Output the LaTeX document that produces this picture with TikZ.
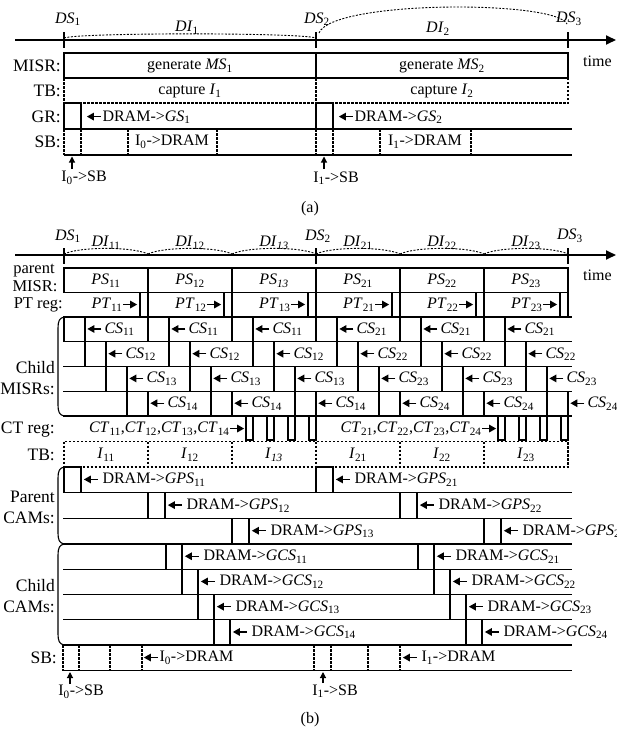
\documentclass[tikz,border=0pt]{standalone}
\usepackage{fontspec}
\setmainfont{Liberation Serif}
\usetikzlibrary{arrows.meta}
\newcommand{\iv}[2]{\textit{#1}\textsubscript{#2}}
\newcommand{\ivi}[2]{\textit{#1}\textsubscript{\textit{#2}}}
\newcommand{\larr}{\tikz[baseline=-0.6ex]\draw[line width=1.3pt,-{Triangle[length=7pt,width=7.5pt]}] (14pt,0pt)--(0pt,0pt);}
\newcommand{\rarr}{\tikz[baseline=-0.6ex]\draw[line width=1.3pt,-{Triangle[length=7pt,width=7.5pt]}] (0pt,0pt)--(14pt,0pt);}
\begin{document}
\begin{tikzpicture}[x=1pt,y=-1pt,
  box/.style={line width=1.1pt},
  dsh/.style={line width=1.1pt, dash pattern=on 2.5pt off 1.5pt},
  arcd/.style={line width=0.9pt, dash pattern=on 2pt off 1.5pt},
  tick/.style={line width=1.4pt},
  ax/.style={line width=1.8pt,-{Triangle[length=10pt,width=9pt]}},
  upar/.style={line width=1.1pt,-{Triangle[length=6pt,width=6pt]}},
  lbl/.style={font=\fontsize{17.5}{21}\selectfont, inner sep=0pt},
  slbl/.style={font=\fontsize{16.5}{19}\selectfont, inner sep=0pt},
  txt/.style={font=\fontsize{16}{19}\selectfont, inner sep=0pt}]
\fill[white] (0,0) rectangle (617,731);
\useasboundingbox (0,0) rectangle (617,731);

% ================= (a) =================
\draw[ax] (15,40) -- (616,40);
\foreach \x in {64,316,568} \draw[tick] (\x,32) -- (\x,48);
\node[txt] (dsa1) at (68,19) {\iv{DS}{1}};
\node[txt] (dsa2) at (317,19) {\iv{DS}{2}};
\node[txt] (dsa3) at (569,19) {\iv{DS}{3}};
\node[txt] (dia1) at (187,28) {\iv{DI}{1}};
\node[txt] (dia2) at (438,29) {\iv{DI}{2}};
\draw[arcd] (64,38) .. controls (80,32.5) and (300,32.5) .. (316,38);
\draw[arcd] (319,33) .. controls (332,0) and (556,0) .. (567,24);
\node[txt,anchor=west] (timea) at (583,61) {time};

\node[lbl,anchor=east] (la1) at (61,66) {MISR:};
\node[lbl,anchor=east] (la2) at (61,91) {TB:};
\node[lbl,anchor=east] (la3) at (61,117) {GR:};
\node[lbl,anchor=east] (la4) at (61,142) {SB:};

% MISR
\draw[box] (64,53) rectangle (568,78);
\draw[box] (316,53) -- (316,78);
\node[txt] (ma1) at (190,66) {generate \iv{MS}{1}};
\node[txt] (ma2) at (442,66) {generate \iv{MS}{2}};
% TB
\draw[dsh] (64,78) -- (64,103) -- (568,103) -- (568,78);
\draw[dsh] (316,78) -- (316,103);
\node[txt] (ta1) at (190,91) {capture \iv{I}{1}};
\node[txt] (ta2) at (442,91) {capture \iv{I}{2}};
% GR
\draw[box] (64,103) rectangle (81,129);
\draw[box] (316,103) rectangle (333,129);
\draw[box] (64,129) -- (572,129);
\node[txt,anchor=west] (ga1) at (86,117) {\larr\hspace{1pt}DRAM->\iv{GS}{1}};
\node[txt,anchor=west] (ga2) at (338,117) {\larr\hspace{1pt}DRAM->\iv{GS}{2}};
% SB
\foreach \x in {64,81,128,217,316,333,380,471} \draw[dsh] (\x,129) -- (\x,155);
\draw[box] (64,155) -- (572,155);
\node[txt] (sa1) at (172,142) {I\textsubscript{0}->DRAM};
\node[txt] (sa2) at (425,142) {I\textsubscript{1}->DRAM};
\node[txt] (sba1) at (84,178) {I\textsubscript{0}->SB};
\node[txt] (sba2) at (336,178) {I\textsubscript{1}->SB};
\coordinate (ta0) at (72,169); \coordinate (hd0) at (72,156.5);
\coordinate (ta1c) at (324,169); \coordinate (hd1) at (324,156.5);
\draw[upar] (ta0) -- (hd0);
\draw[upar] (ta1c) -- (hd1);
\node[txt] (capa) at (310,209) {(a)};

% ================= (b) =================
\draw[ax] (15,255) -- (616,255);
\foreach \x in {64,316,568} \draw[tick] (\x,248) -- (\x,264);
\node[txt] (dsb1) at (68,236) {\iv{DS}{1}};
\node[txt] (dsb2) at (318,236) {\iv{DS}{2}};
\node[txt] (dsb3) at (570,236) {\iv{DS}{3}};
\foreach \x in {64,148,232,316,400,484}
  \draw[arcd] (\x,254) .. controls ({\x+16},246.5) and ({\x+68},246.5) .. ({\x+84},254);
\node[txt] (dib1) at (106,243) {\iv{DI}{11}};
\node[txt] (dib2) at (190,243) {\iv{DI}{12}};
\node[txt] (dib3) at (274,243) {\ivi{DI}{13}};
\node[txt] (dib4) at (358,243) {\iv{DI}{21}};
\node[txt] (dib5) at (442,243) {\iv{DI}{22}};
\node[txt] (dib6) at (526,243) {\iv{DI}{23}};
\node[txt,anchor=west] (timeb) at (583,275) {time};

% left labels
\node[slbl] (lb1a) at (34,271) {parent};
\node[slbl] (lb1b) at (35,286.5) {MISR:};
\node[slbl,anchor=east] (lb2) at (63,305) {PT reg:};
\node[lbl,anchor=east,align=right] (lb3) at (55,378) {Child\\MISRs:};
\node[lbl,anchor=east] (lb4) at (55,430) {CT reg:};
\node[lbl,anchor=east] (lb5) at (55,455) {TB:};
\node[lbl,anchor=east,align=right] (lb6) at (55,507) {Parent\\CAMs:};
\node[lbl,anchor=east,align=right] (lb7) at (55,596) {Child\\CAMs:};
\node[lbl,anchor=east] (lb8) at (57,658) {SB:};

% parent MISR
\draw[box] (64,268) rectangle (568,292.5);
\foreach \x in {148,232,316,400,484} \draw[box] (\x,268) -- (\x,292.5);
\node[txt] (ps1) at (106,280.5) {\iv{PS}{11}};
\node[txt] (ps2) at (190,280.5) {\iv{PS}{12}};
\node[txt] (ps3) at (274,280.5) {\ivi{PS}{13}};
\node[txt] (ps4) at (358,280.5) {\iv{PS}{21}};
\node[txt] (ps5) at (442,280.5) {\iv{PS}{22}};
\node[txt] (ps6) at (526,280.5) {\iv{PS}{23}};

% PT reg
\foreach \b/\s [count=\j] in {148/11,232/12,316/13,400/21,484/22,568/23} {
  \draw[box] ({\b-8},292.5) rectangle (\b,317);
  \node[txt,anchor=east] (pt\j) at ({\b-10},305) {\iv{PT}{\s}\rarr};
}

% child MISRs
\foreach \y in {317,341.75,366.5,391.25,416} \draw[box] (63,\y) -- (572,\y);
\draw[box] (64,317) .. controls (59.5,318) and (58,321) .. (58,328) -- (58,405) .. controls (58,412) and (59.5,415) .. (64,416);
\foreach \b/\g [count=\j] in {64/1,148/1,232/1,316/2,400/2,484/2} {
  \foreach \k in {1,2,3,4} {
    \draw[box] ({\b+21*(\k-1)},{317+24.75*(\k-1)}) rectangle ({\b+21*\k},{317+24.75*\k});
    \node[txt,anchor=west] (cs\j\k) at ({\b+21*\k+1.5},{317+24.75*(\k-0.5)}) {\larr\hspace{2.5pt}\iv{CS}{\g\k}};
  }
}

% CT reg
\foreach \b in {232,484} \foreach \k in {1,2,3,4}
  \draw[box] ({\b+21*\k-7},416) rectangle ({\b+21*\k},440);
\node[txt,anchor=east] (ct1) at (245,429) {\iv{CT}{11},\iv{CT}{12},\iv{CT}{13},\iv{CT}{14}\rarr};
\node[txt,anchor=east] (ct2) at (497,429) {\iv{CT}{21},\iv{CT}{22},\iv{CT}{23},\iv{CT}{24}\rarr};

% TB
\draw[dsh] (64,441.5) rectangle (568,467);
\foreach \x in {148,232,316,400,484} \draw[dsh] (\x,441.5) -- (\x,467);
\node[txt] (tb1) at (106,455) {\iv{I}{11}};
\node[txt] (tb2) at (190,455) {\iv{I}{12}};
\node[txt] (tb3) at (274,455) {\ivi{I}{13}};
\node[txt] (tb4) at (358,455) {\iv{I}{21}};
\node[txt] (tb5) at (442,455) {\iv{I}{22}};
\node[txt] (tb6) at (526,455) {\iv{I}{23}};

% Parent CAMs
\foreach \y in {492.7,518.3,544} \draw[box] (63,\y) -- (572,\y);
\draw[box] (64,467) .. controls (59.5,468) and (58,471) .. (58,478) -- (58,533) .. controls (58,540) and (59.5,543) .. (64,544);
\foreach \b/\s/\k in {64/11/1,148/12/2,232/13/3,316/21/1,400/22/2,484/23/3} {
  \draw[box] (\b,{467+25.67*(\k-1)}) rectangle ({\b+17},{467+25.67*\k});
  \node[txt,anchor=west] (gps\s) at ({\b+19},{467+25.67*(\k-0.5)}) {\larr\hspace{4pt}DRAM->\iv{GPS}{\s}};
}

% Child CAMs
\foreach \y in {569.25,594.5,619.75,645} \draw[box] (63,\y) -- (572,\y);
\draw[box] (64,544) .. controls (59.5,545) and (58,548) .. (58,555) -- (58,634) .. controls (58,641) and (59.5,644) .. (64,645);
\foreach \b/\g in {166/1,418/2} {
  \foreach \k in {1,2,3,4} {
    \draw[box] ({\b+16*(\k-1)},{544+25.25*(\k-1)}) rectangle ({\b+16*\k},{544+25.25*\k});
    \node[txt,anchor=west] (gcs\g\k) at ({\b+16*\k+2},{544+25.25*(\k-0.5)}) {\larr\hspace{4pt}DRAM->\iv{GCS}{\g\k}};
  }
}

% SB
\foreach \x in {63,79,110,142,314,331,368,400} \draw[dsh] (\x,645) -- (\x,670.5);
\draw[box] (63,670.5) -- (572,670.5);
\node[txt,anchor=west] (sbd1) at (143,658) {\larr\hspace{1pt}I\textsubscript{0}->DRAM};
\node[txt,anchor=west] (sbd2) at (402,658) {\larr\hspace{4pt}I\textsubscript{1}->DRAM};
\node[txt] (sbb1) at (81,692) {I\textsubscript{0}->SB};
\node[txt] (sbb2) at (335,691) {I\textsubscript{1}->SB};
\coordinate (tb0t) at (70,684); \coordinate (tb0h) at (70,672);
\coordinate (tb1t) at (323,683); \coordinate (tb1h) at (323,672);
\draw[upar] (tb0t) -- (tb0h);
\draw[upar] (tb1t) -- (tb1h);
\node[txt] (capb) at (310,720) {(b)};
\end{tikzpicture}
\end{document}
